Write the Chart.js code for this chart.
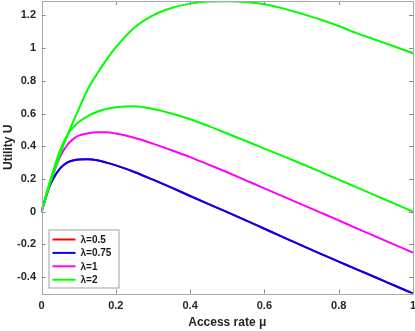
<!DOCTYPE html>
<html>
<head>
<meta charset="utf-8">
<script src="https://cdn.jsdelivr.net/npm/chart.js@4.4.1/dist/chart.umd.min.js"></script>
<style>
  html, body { margin: 0; padding: 0; background: #fff; }
  #wrap { width: 415px; height: 331px; }
</style>
</head>
<body>
<div id="wrap"><canvas id="chart" width="415" height="331"></canvas></div>
<script>
// access rate mu (shared x grid)
const mu = [0, 0.01, 0.02, 0.03, 0.05, 0.07, 0.09, 0.1, 0.125, 0.15, 0.175, 0.2, 0.25, 0.3,
    0.35, 0.4, 0.45, 0.5, 0.55, 0.6, 0.65, 0.7, 0.75, 0.8, 0.85, 0.9, 0.95, 1];

// utility per lambda (lambda=0.5 lies under lambda=0.75)
const uLam05 = [0, 0.075, 0.145, 0.195, 0.265, 0.302, 0.316, 0.319, 0.32, 0.314, 0.3, 0.283, 0.243, 0.196,
    0.147, 0.096, 0.046, -0.003, -0.053, -0.104, -0.155, -0.206, -0.256, -0.305, -0.354, -0.402, -0.451, -0.5];
const uLam075 = [0, 0.075, 0.145, 0.195, 0.265, 0.302, 0.316, 0.319, 0.32, 0.314, 0.3, 0.283, 0.243, 0.196,
    0.147, 0.096, 0.046, -0.003, -0.053, -0.104, -0.155, -0.206, -0.256, -0.305, -0.354, -0.402, -0.451, -0.5];
const uLam1 = [0, 0.08, 0.155, 0.22, 0.335, 0.41, 0.452, 0.465, 0.479, 0.485, 0.485, 0.478, 0.452, 0.416,
    0.376, 0.334, 0.288, 0.241, 0.192, 0.143, 0.094, 0.045, -0.004, -0.053, -0.103, -0.152, -0.201, -0.25];
const uLam2 = [0, 0.085, 0.165, 0.24, 0.375, 0.47, 0.527, 0.548, 0.585, 0.611, 0.628, 0.638, 0.645, 0.628,
    0.6, 0.565, 0.523, 0.478, 0.432, 0.386, 0.34, 0.293, 0.245, 0.196, 0.147, 0.098, 0.049, 0];
const uTop = [0, 0.075, 0.15, 0.22, 0.35, 0.47, 0.575, 0.625, 0.75, 0.845, 0.93, 1.005, 1.125, 1.2,
    1.245, 1.272, 1.285, 1.287, 1.282, 1.268, 1.243, 1.21, 1.175, 1.135, 1.09, 1.05, 1.01, 0.969];

const xTicks = [0, 0.2, 0.4, 0.6, 0.8, 1];
const yTicks = [-0.4, -0.2, 0, 0.2, 0.4, 0.6, 0.8, 1, 1.2];

const FONT = '"Liberation Sans", Arial, Helvetica, sans-serif';

function pts(ys) {
    return mu.map((x, i) => ({ x, y: ys[i] }));
}

// later series are drawn on top, like matlab
function line(label, ys, color, order, inLegend) {
    return {
        label,
        data: pts(ys),
        borderColor: color,
        backgroundColor: color,
        borderWidth: 2,
        pointRadius: 0,
        cubicInterpolationMode: 'monotone',
        order,
        inLegend,
    };
}

// matlab style box with inward ticks on all four sides
const boxPlugin = {
    id: 'box',
    afterDatasetsDraw(chart) {
        const { ctx, chartArea: a, scales: { x, y } } = chart;
        ctx.save();
        ctx.strokeStyle = '#888';
        ctx.lineWidth = 1;
        ctx.beginPath();
        for (const v of xTicks) {
            const px = Math.round(x.getPixelForValue(v)) + 0.5;
            ctx.moveTo(px, a.bottom); ctx.lineTo(px, a.bottom - 4);
            ctx.moveTo(px, a.top); ctx.lineTo(px, a.top + 4);
        }
        for (const v of yTicks) {
            const py = Math.round(y.getPixelForValue(v)) + 0.5;
            ctx.moveTo(a.left, py); ctx.lineTo(a.left + 4, py);
            ctx.moveTo(a.right, py); ctx.lineTo(a.right - 4, py);
        }
        ctx.stroke();
        ctx.strokeStyle = '#a8a8a8';
        ctx.strokeRect(Math.round(a.left) + 0.5, Math.round(a.top) + 0.5,
            Math.round(a.right - a.left) - 1, Math.round(a.bottom - a.top));
        ctx.restore();
    },
};

// legend box in the lower left corner of the axes
const legendPlugin = {
    id: 'boxLegend',
    afterDraw(chart) {
        const { ctx, chartArea: a } = chart;
        const items = chart.data.datasets.filter(d => d.inLegend);
        const bx = a.left + 7, by = a.bottom - 64, bw = 70, bh = 58;
        ctx.save();
        ctx.fillStyle = '#fff';
        ctx.fillRect(bx, by, bw, bh);
        ctx.strokeStyle = '#a0a0a0';
        ctx.lineWidth = 1;
        ctx.strokeRect(bx + 0.5, by + 0.5, bw, bh);
        ctx.font = 'bold 10px ' + FONT;
        ctx.textBaseline = 'middle';
        items.forEach((d, i) => {
            const ly = by + 10 + i * 13.4;
            ctx.strokeStyle = d.borderColor;
            ctx.lineWidth = 2;
            ctx.beginPath();
            ctx.moveTo(bx + 4, ly);
            ctx.lineTo(bx + 27, ly);
            ctx.stroke();
            ctx.fillStyle = '#1a1a1a';
            ctx.fillText(d.label, bx + 32, ly + 0.5);
        });
        ctx.restore();
    },
};

new Chart(document.getElementById('chart'), {
    type: 'line',
    data: {
        datasets: [
            line('\u03bb=0.5', uLam05, '#ff0000', 5, true),
            line('\u03bb=0.75', uLam075, '#0000ff', 4, true),
            line('\u03bb=1', uLam1, '#ff00ff', 3, true),
            line('\u03bb=2', uLam2, '#00ff00', 2, true),
            line('', uTop, '#00ff00', 1, false),
        ],
    },
    options: {
        responsive: false,
        animation: false,
        devicePixelRatio: 1,
        layout: { padding: { top: 1, right: 2, left: 0, bottom: 0 } },
        plugins: {
            legend: { display: false },
            tooltip: { enabled: false },
        },
        scales: {
            x: {
                type: 'linear',
                min: 0,
                max: 1,
                grid: { display: false, drawTicks: false },
                border: { display: false },
                afterBuildTicks: s => { s.ticks = xTicks.map(v => ({ value: v })); },
                afterFit: s => {
                    s.height = 37.5;
                    s.paddingLeft = 0;
                    s.paddingRight = 0;
                },
                ticks: {
                    color: '#262626',
                    padding: 6,
                    maxRotation: 0,
                    font: { family: FONT, size: 11, weight: 'bold' },
                    callback: v => String(v),
                },
                title: {
                    display: true,
                    text: 'Access rate \u03bc',
                    color: '#262626',
                    padding: { top: 0, bottom: 1 },
                    font: { family: FONT, size: 12, weight: 'bold' },
                },
            },
            y: {
                type: 'linear',
                min: -0.5,
                max: 1.288,
                grid: { display: false, drawTicks: false },
                border: { display: false },
                afterBuildTicks: s => { s.ticks = yTicks.map(v => ({ value: v })); },
                afterFit: s => {
                    s.width = 41.5;
                    s.paddingTop = 0;
                    s.paddingBottom = 0;
                },
                ticks: {
                    color: '#262626',
                    padding: 5.5,
                    font: { family: FONT, size: 11, weight: 'bold' },
                    callback: v => String(v),
                },
                title: {
                    display: true,
                    text: 'Utility U',
                    color: '#262626',
                    padding: { top: 1, bottom: 0 },
                    font: { family: FONT, size: 12, weight: 'bold' },
                },
            },
        },
    },
    plugins: [boxPlugin, legendPlugin],
});
</script>
</body>
</html>
